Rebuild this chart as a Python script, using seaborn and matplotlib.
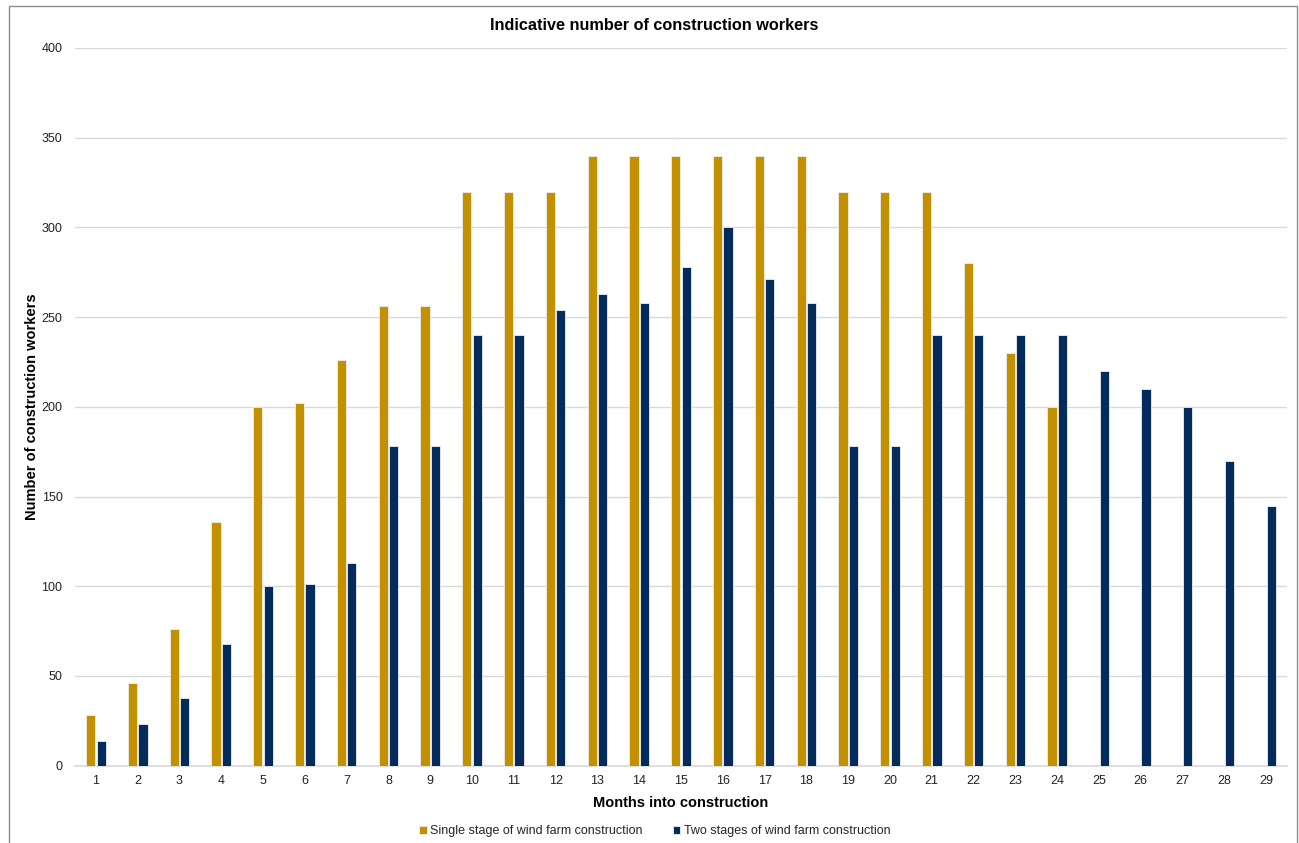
import matplotlib
matplotlib.use("Agg")
import matplotlib.pyplot as plt
import seaborn as sns
import pandas as pd
import numpy as np
from matplotlib.patches import Rectangle

months = [1, 2, 3, 4, 5, 6, 7, 8, 9, 10, 11, 12, 13, 14, 15, 16, 17, 18, 19, 20,
          21, 22, 23, 24, 25, 26, 27, 28, 29]
single_stage = [28, 46, 76, 136, 200, 202, 226, 256, 256, 320, 320, 320, 340, 340, 340,
                340, 340, 340, 320, 320, 320, 280, 230, 200, None, None, None, None, None]
two_stages = [14, 23, 38, 68, 100, 101, 113, 178, 178, 240, 240, 254, 263, 258, 278,
              300, 271, 258, 178, 178, 240, 240, 240, 240, 220, 210, 200, 170, 145]
series_names = ["Single stage of wind farm construction", "Two stages of wind farm construction"]
series_colors = ["#C39100", "#032B5C"]
y_ticks = [0, 50, 100, 150, 200, 250, 300, 350, 400]

rows = []
for m, v in zip(months, single_stage):
    rows.append({"Month": m, "Workers": np.nan if v is None else v, "Series": series_names[0]})
for m, v in zip(months, two_stages):
    rows.append({"Month": m, "Workers": v, "Series": series_names[1]})
df = pd.DataFrame(rows)

sns.set_theme(style="white")
plt.rcParams["font.family"] = ["Liberation Sans", "DejaVu Sans"]

fig = plt.figure(figsize=(12.99, 8.43), dpi=100)
ax = fig.add_axes([75 / 1299, 1 - 765.7 / 843, (1287 - 75) / 1299, (765.7 - 48) / 843])

sns.barplot(data=df, x="Month", y="Workers", hue="Series", order=months,
            hue_order=series_names, palette=series_colors, saturation=1,
            width=0.5, gap=0.12, edgecolor="#eeeeee", linewidth=0.6, ax=ax, zorder=3)

ax.set_ylim(0, 400)
ax.set_xlim(-0.5, len(months) - 0.5)
ax.set_yticks(y_ticks)
ax.set_yticklabels([str(t) for t in y_ticks])
ax.yaxis.grid(True, color="#d9d9d9", linewidth=1.0, zorder=0)
ax.xaxis.grid(False)
ax.set_axisbelow(True)
for s in ["top", "right", "left"]:
    ax.spines[s].set_visible(False)
ax.spines["bottom"].set_color("#d9d9d9")
ax.spines["bottom"].set_linewidth(1.2)
ax.tick_params(axis="both", length=0, labelsize=9, colors="#222222")
ax.tick_params(axis="y", pad=9)
ax.tick_params(axis="x", pad=7)

ax.set_xlabel("Months into construction", fontsize=10.5, fontweight="bold", labelpad=6, color="black")
ax.set_ylabel("Number of construction workers", fontsize=10.5, fontweight="bold", labelpad=2, color="black")

fig.text(654 / 1299, 1 - 25 / 843, "Indicative number of construction workers",
         ha="center", va="center", fontsize=11.7, fontweight="bold", color="black")

handles, labels = ax.get_legend_handles_labels()
if ax.get_legend() is not None:
    ax.get_legend().remove()
fig.legend(handles, labels, loc="center", bbox_to_anchor=(655 / 1299, 1 - 831 / 843),
           ncol=2, frameon=False, fontsize=9, handlelength=0.6, handleheight=0.6,
           handletextpad=0.3, columnspacing=2.4)

border = Rectangle((9 / 1299, -0.01), (1297 - 9) / 1299, (1 - 6 / 843) + 0.01,
                   transform=fig.transFigure, fill=False, edgecolor="#8c8c8c",
                   linewidth=1.0, zorder=-1)
fig.patches.append(border)

fig.savefig("out.png", dpi=100)
